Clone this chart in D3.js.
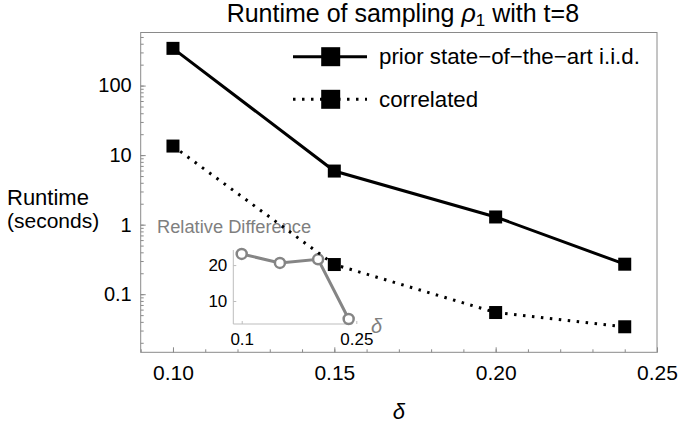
<!DOCTYPE html>
<html>
<head>
<meta charset="utf-8">
<script src="https://cdn.jsdelivr.net/npm/d3@7"></script>
<style>
  body { margin: 0; background: #fff; }
  svg { font-family: "Liberation Sans", Arial, sans-serif; }
</style>
</head>
<body>
<div class="chart"></div>
<script>
// data
const deltas = [0.10, 0.15, 0.20, 0.24];
const iidRuntime = [343, 5.9, 1.29, 0.27];
const corrRuntime = [13.5, 0.267, 0.0545, 0.034];
const relDiff = [23.1, 20.6, 21.6, 5.0];

const xTickValues = [0.10, 0.15, 0.20, 0.25];
const xTickLabels = ["0.10", "0.15", "0.20", "0.25"];
const yTickValues = [0.1, 1, 10, 100];
const yTickLabels = ["0.1", "1", "10", "100"];
const insetXTicks = [0.1, 0.25];
const insetXLabels = ["0.1", "0.25"];
const insetYTicks = [10, 20];
const seriesNames = ["prior state\u2212of\u2212the\u2212art i.i.d.", "correlated"];

const W = 679, H = 426;
const frame = { left: 140.7, right: 657, top: 32.5, bottom: 352.3 };

const svg = d3.select(".chart")
    .append("svg")
    .attr("width", W)
    .attr("height", H);

const x = d3.scaleLinear()
    .domain([0.09, 0.25])
    .range([frame.left, frame.right]);

const y = d3.scaleLog()
    .domain([0.0146, 580])
    .range([frame.bottom, frame.top]);

// frame box
svg.append("rect")
    .attr("x", frame.left)
    .attr("y", frame.top)
    .attr("width", frame.right - frame.left)
    .attr("height", frame.bottom - frame.top)
    .attr("fill", "none")
    .attr("stroke", "#8a8a8a")
    .attr("stroke-width", 1);

// x minor + major ticks (pointing inward)
svg.append("g")
    .attr("transform", `translate(0,${frame.bottom})`)
    .call(d3.axisBottom(x).tickValues(x.ticks(16)).tickSize(-3).tickFormat(""))
    .call(g => g.select(".domain").remove())
    .call(g => g.selectAll("line").attr("stroke", "#8a8a8a"));

svg.append("g")
    .attr("transform", `translate(0,${frame.bottom})`)
    .call(d3.axisBottom(x).tickValues(xTickValues).tickSize(-5)
        .tickFormat((d, i) => xTickLabels[i]).tickPadding(13))
    .call(g => g.select(".domain").remove())
    .call(g => g.selectAll("line").attr("stroke", "#8a8a8a"))
    .call(g => g.selectAll("text")
        .attr("font-size", 21)
        .attr("font-family", "Liberation Sans, Arial, sans-serif")
        .attr("fill", "#000"));

// y minor ticks from the log scale
svg.append("g")
    .attr("transform", `translate(${frame.left},0)`)
    .call(d3.axisLeft(y).tickValues(y.ticks()).tickSize(-3).tickFormat(""))
    .call(g => g.select(".domain").remove())
    .call(g => g.selectAll("line").attr("stroke", "#8a8a8a"));

svg.append("g")
    .attr("transform", `translate(${frame.left},0)`)
    .call(d3.axisLeft(y).tickValues(yTickValues).tickSize(-5)
        .tickFormat((d, i) => yTickLabels[i]).tickPadding(9))
    .call(g => g.select(".domain").remove())
    .call(g => g.selectAll("line").attr("stroke", "#8a8a8a"))
    .call(g => g.selectAll("text")
        .attr("font-size", 20)
        .attr("font-family", "Liberation Sans, Arial, sans-serif")
        .attr("fill", "#000"));

// axis titles
svg.append("text")
    .attr("x", 7).attr("y", 205)
    .attr("font-size", 22)
    .text("Runtime");
svg.append("text")
    .attr("x", 7).attr("y", 228)
    .attr("font-size", 21)
    .text("(seconds)");

svg.append("text")
    .attr("x", (frame.left + frame.right) / 2)
    .attr("y", 419)
    .attr("text-anchor", "middle")
    .attr("font-size", 22)
    .attr("font-style", "italic")
    .text("\u03b4");

// title
const title = svg.append("text")
    .attr("x", (frame.left + frame.right) / 2 + 4)
    .attr("y", 22)
    .attr("text-anchor", "middle")
    .attr("font-size", 25);
title.append("tspan").text("Runtime of sampling ");
title.append("tspan").attr("font-style", "italic").text("\u03c1");
title.append("tspan").attr("font-size", 17).attr("dy", 4).text("1");
title.append("tspan").attr("dy", -4).text(" with t=8");

// ---- inset: relative difference ----
const ix = d3.scaleLinear()
    .domain([0.089, 0.25])
    .range([233.3, 356.3]);
const iy = d3.scaleLinear()
    .domain([3.6, 24.2])
    .range([324, 250]);

const inset = svg.append("g");

inset.append("g")
    .attr("transform", `translate(0,${iy.range()[0]})`)
    .call(d3.axisBottom(ix).tickValues(insetXTicks).tickSize(-3)
        .tickFormat((d, i) => insetXLabels[i]).tickPadding(9))
    .call(g => g.select(".domain").attr("d", `M${ix(0.089)},0H${ix(0.245)}`).attr("stroke", "#bdbdbd"))
    .call(g => g.selectAll("line").attr("stroke", "#bdbdbd"))
    .call(g => g.selectAll("text")
        .attr("font-size", 17)
        .attr("font-family", "Liberation Sans, Arial, sans-serif")
        .attr("fill", "#000"));

inset.append("g")
    .attr("transform", `translate(${ix.range()[0]},0)`)
    .call(d3.axisLeft(iy).tickValues(insetYTicks).tickSize(-3).tickPadding(6))
    .call(g => g.select(".domain").attr("d", `M0,${iy.range()[0]}V${iy.range()[1]}`).attr("stroke", "#bdbdbd"))
    .call(g => g.selectAll("line").attr("stroke", "#bdbdbd"))
    .call(g => g.selectAll("text")
        .attr("font-size", 17)
        .attr("font-family", "Liberation Sans, Arial, sans-serif")
        .attr("fill", "#000"));

inset.append("text")
    .attr("x", 157).attr("y", 233)
    .attr("font-size", 18.3)
    .attr("fill", "#7f7f7f")
    .text("Relative Difference");

inset.append("text")
    .attr("x", 371).attr("y", 333)
    .attr("font-size", 20)
    .attr("font-style", "italic")
    .attr("fill", "#7f7f7f")
    .text("\u03b4");

const relData = deltas.map((d, i) => [d, relDiff[i]]);

inset.append("path")
    .datum(relData)
    .attr("fill", "none")
    .attr("stroke", "#858585")
    .attr("stroke-width", 3)
    .attr("d", d3.line().x(d => ix(d[0])).y(d => iy(d[1])));

inset.selectAll("circle")
    .data(relData)
    .enter()
    .append("circle")
    .attr("cx", d => ix(d[0]))
    .attr("cy", d => iy(d[1]))
    .attr("r", 5)
    .attr("fill", "#fff")
    .attr("stroke", "#858585")
    .attr("stroke-width", 2.5);

// ---- main series ----
const line = d3.line()
    .x(d => x(d[0]))
    .y(d => y(d[1]));

const iidData = deltas.map((d, i) => [d, iidRuntime[i]]);
const corrData = deltas.map((d, i) => [d, corrRuntime[i]]);

svg.append("path")
    .datum(iidData)
    .attr("fill", "none")
    .attr("stroke", "#000")
    .attr("stroke-width", 3)
    .attr("d", line);

svg.append("path")
    .datum(corrData)
    .attr("fill", "none")
    .attr("stroke", "#000")
    .attr("stroke-width", 3)
    .attr("stroke-dasharray", "2.5,6.5")
    .attr("d", line);

const ms = 13;
[iidData, corrData].forEach(data => {
    svg.append("g")
        .selectAll("rect")
        .data(data)
        .enter()
        .append("rect")
        .attr("x", d => x(d[0]) - ms / 2)
        .attr("y", d => y(d[1]) - ms / 2)
        .attr("width", ms)
        .attr("height", ms)
        .attr("fill", "#000");
});

// ---- legend ----
const legend = svg.append("g");
const rows = [56.7, 99.3];
rows.forEach((ry, i) => {
    legend.append("line")
        .attr("x1", 293).attr("x2", 367)
        .attr("y1", ry).attr("y2", ry)
        .attr("stroke", "#000")
        .attr("stroke-width", 3)
        .attr("stroke-dasharray", i === 1 ? "2.5,6.5" : null);
    legend.append("rect")
        .attr("x", 330.7 - 9.5).attr("y", ry - 9.5)
        .attr("width", 19).attr("height", 19)
        .attr("fill", "#000");
    legend.append("text")
        .attr("x", 379).attr("y", ry + 7.5)
        .attr("font-size", 22.3)
        .text(seriesNames[i]);
});
</script>
</body>
</html>
